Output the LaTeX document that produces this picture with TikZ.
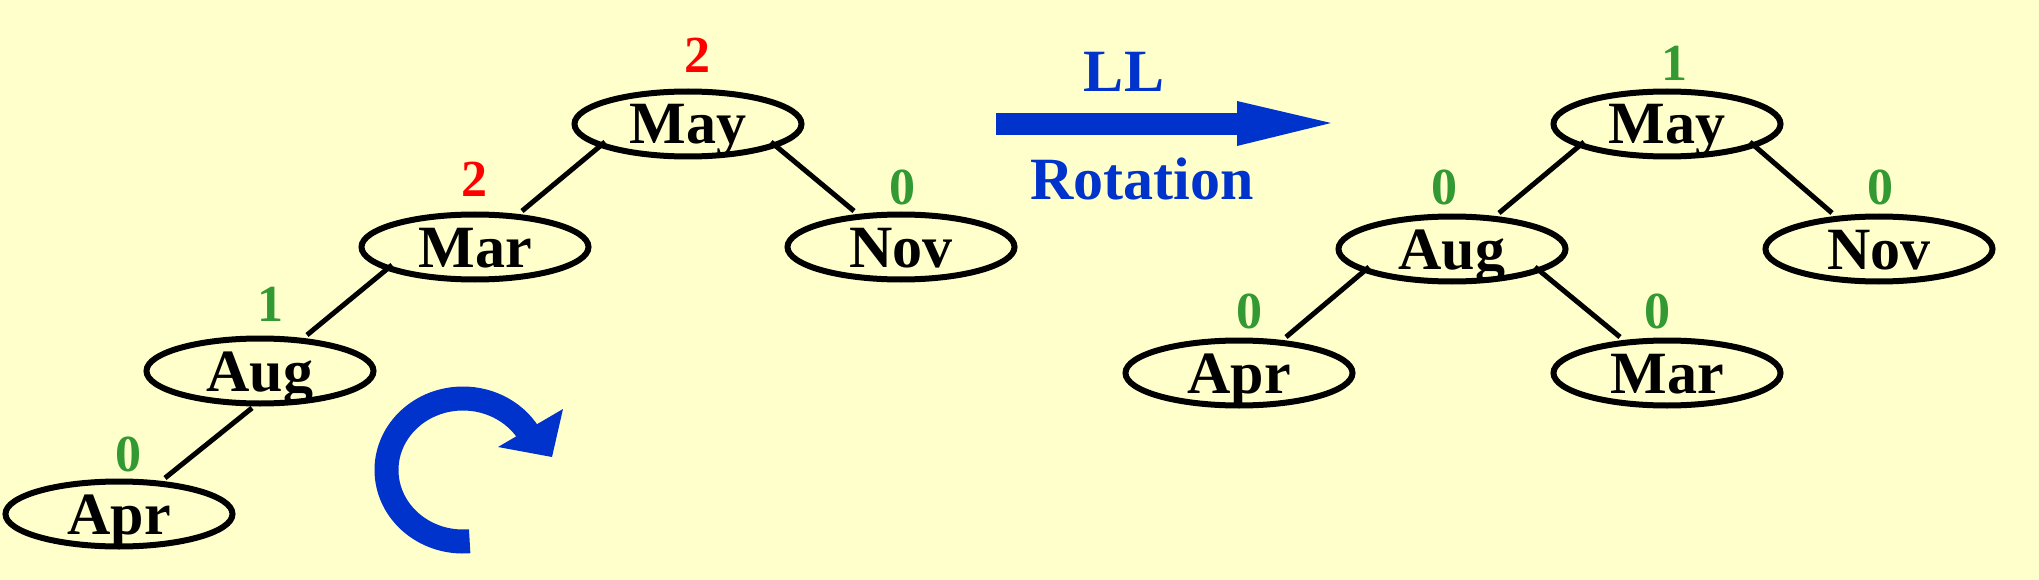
\documentclass[tikz,border=0pt]{standalone}
\usepackage{fontspec}
\setmainfont{Liberation Serif}
\usetikzlibrary{shapes.geometric}
\definecolor{bg}{RGB}{255,255,204}
\definecolor{bal}{RGB}{51,153,51}
\definecolor{redbal}{RGB}{255,0,0}
\definecolor{arrblue}{RGB}{0,51,204}
\tikzset{
  tnode/.style={shape=ellipse, draw=black, line width=6pt, minimum width=227pt, minimum height=65pt, inner sep=0pt,
    font=\fontsize{60}{60}\selectfont\bfseries, text height=40pt, text depth=0pt},
  balg/.style={font=\fontsize{52}{52}\selectfont\bfseries, text=bal, text height=35pt, text depth=0pt, inner sep=0pt},
  balr/.style={balg, text=redbal},
  edge/.style={line width=5pt, black},
  bluetext/.style={font=\fontsize{60}{60}\selectfont\bfseries, text=arrblue, text height=40pt, text depth=0pt, inner sep=0pt}
}
\begin{document}
\begin{tikzpicture}[x=1pt,y=1pt]
\fill[bg] (0,0) rectangle (2039,-580);
\useasboundingbox (0,0) rectangle (2039,-580);
% left tree
\node[tnode] (lmay) at (688,-124) {May};
\node[tnode] (lmar) at (475,-247) {Mar};
\node[tnode] (lnov) at (901,-247) {Nov};
\node[tnode] (laug) at (260,-371) {Aug};
\node[tnode] (lapr) at (119,-514) {Apr};
\draw[edge] ([shift={(-83,-18)}]lmay.center) -- ([shift={(47,36)}]lmar.center);
\draw[edge] ([shift={(83,-18)}]lmay.center) -- ([shift={(-47,36)}]lnov.center);
\draw[edge] ([shift={(-83,-18)}]lmar.center) -- ([shift={(47,36)}]laug.center);
\draw[edge] ([shift={(-8,-37)}]laug.center) -- ([shift={(46,36)}]lapr.center);
\node[balr] (bl1) at (697,-55) {2};
\node[balr] (bl2) at (474,-179) {2};
\node[balg] (bl3) at (902,-187) {0};
\node[balg] (bl4) at (270,-304) {1};
\node[balg] (bl5) at (128,-454) {0};
% right tree
\node[tnode] (rmay) at (1667,-124) {May};
\node[tnode] (raug) at (1452,-249) {Aug};
\node[tnode] (rnov) at (1879,-249) {Nov};
\node[tnode] (rapr) at (1239,-373) {Apr};
\node[tnode] (rmar) at (1667,-373) {Mar};
\draw[edge] ([shift={(-83,-18)}]rmay.center) -- ([shift={(47,36)}]raug.center);
\draw[edge] ([shift={(83,-18)}]rmay.center) -- ([shift={(-47,36)}]rnov.center);
\draw[edge] ([shift={(-83,-18)}]raug.center) -- ([shift={(47,36)}]rapr.center);
\draw[edge] ([shift={(83,-18)}]raug.center) -- ([shift={(-47,36)}]rmar.center);
\node[balg] (br1) at (1674,-63) {1};
\node[balg] (br2) at (1444,-187) {0};
\node[balg] (br3) at (1880,-187) {0};
\node[balg] (br4) at (1249,-311) {0};
\node[balg] (br5) at (1657,-311) {0};
% LL rotation arrow
\fill[arrblue] (996,-113) rectangle (1238,-135);
\fill[arrblue] (1237,-101) -- (1331,-123) -- (1237,-146) -- cycle;
\node[bluetext] (ll) at (1124,-72) {LL};
\node[bluetext] (rot) at (1142,-180) {Rotation};
% circular arrow
\draw[arrblue, line width=24pt] (463,-470) ++(275:76.5 and 71.5) arc[start angle=275, end angle=30, x radius=76.5, y radius=71.5];
\fill[arrblue] (498,-447) -- (563,-409) -- (552,-457) -- cycle;
\end{tikzpicture}
\end{document}
